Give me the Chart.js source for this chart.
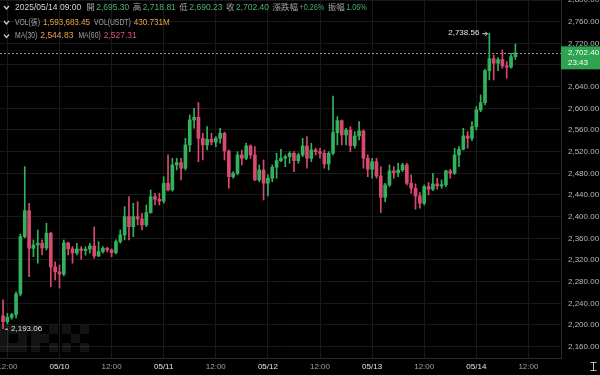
<!DOCTYPE html>
<html>
<head>
<meta charset="utf-8">
<script src="https://cdn.jsdelivr.net/npm/chart.js@4.4.1/dist/chart.umd.min.js"></script>
<style>
html, body { margin: 0; padding: 0; background: #000; }
#wrap { width: 600px; height: 375px; position: relative; }
</style>
</head>
<body>
<div id="wrap"><canvas id="chart" width="600" height="375"></canvas></div>
<script>
// Hourly candles, 05/09 11:00 -> 05/14 09:00 (x = hours from 05/10 00:00)
const firstHour = -13;

const opens = [
  2216.7, 2206.1, 2214.2, 2219.0, 2257.3, 2363.1, 2411.1, 2341.6, 2347.7, 2350.9,
  2342.2, 2369.4, 2307.1, 2298.0, 2294.0, 2351.5, 2340.4, 2333.0, 2340.4, 2337.5,
  2340.0, 2345.9, 2327.4, 2335.4, 2341.6, 2338.5, 2333.5, 2353.8, 2366.2, 2400.0,
  2381.5, 2400.0, 2395.8, 2384.7, 2407.4, 2437.0, 2432.1, 2428.6, 2461.7, 2449.3,
  2495.5, 2499.7, 2489.4, 2532.4, 2578.5, 2583.5, 2544.7, 2532.4, 2542.9, 2537.8,
  2544.7, 2554.0, 2521.3, 2473.8, 2480.1, 2513.9, 2507.8, 2530.5, 2513.9, 2467.8,
  2486.2, 2461.7, 2470.9, 2491.2, 2503.4, 2507.8, 2510.8, 2517.0, 2503.4, 2513.9,
  2530.5, 2507.8, 2523.1, 2520.0, 2517.0, 2497.3, 2517.0, 2555.1, 2577.2, 2550.8,
  2560.0, 2531.0, 2549.0, 2558.2, 2507.8, 2487.5, 2501.5, 2475.1, 2435.8, 2458.5,
  2484.4, 2481.2, 2486.2, 2495.5, 2461.7, 2452.4, 2438.2, 2424.7, 2455.4, 2450.6,
  2460.4, 2456.7, 2459.0, 2484.4, 2480.1, 2513.9, 2524.4, 2549.0, 2544.7, 2566.1,
  2597.0, 2610.5, 2669.5, 2691.7, 2683.2, 2690.0, 2678.2, 2676.0, 2695.3
];
const highs = [
  2246.2, 2221.6, 2221.6, 2261.0, 2368.0, 2492.3, 2424.7, 2357.0, 2375.4, 2357.0,
  2387.8, 2371.0, 2316.4, 2310.8, 2357.0, 2352.9, 2344.6, 2350.9, 2344.6, 2344.6,
  2350.9, 2381.0, 2353.8, 2344.6, 2343.5, 2340.6, 2357.0, 2375.4, 2418.5, 2437.0,
  2424.7, 2427.7, 2406.3, 2421.6, 2449.3, 2443.2, 2443.2, 2473.8, 2513.9, 2507.8,
  2507.8, 2507.8, 2544.7, 2587.8, 2600.1, 2610.5, 2554.0, 2566.1, 2554.0, 2547.7,
  2563.2, 2556.0, 2523.0, 2483.1, 2520.0, 2523.1, 2535.5, 2532.4, 2529.2, 2495.5,
  2504.7, 2477.0, 2495.5, 2517.0, 2524.4, 2513.9, 2520.0, 2520.0, 2517.0, 2544.7,
  2547.7, 2535.5, 2526.3, 2526.3, 2523.1, 2520.0, 2622.8, 2584.6, 2578.5, 2563.2,
  2566.1, 2557.0, 2575.4, 2560.0, 2513.9, 2507.8, 2507.8, 2492.3, 2461.7, 2495.5,
  2492.3, 2498.6, 2498.6, 2498.6, 2477.0, 2460.4, 2444.3, 2458.5, 2462.8, 2480.1,
  2470.9, 2467.8, 2486.2, 2487.5, 2526.3, 2529.2, 2563.2, 2557.0, 2575.4, 2603.1,
  2624.7, 2672.1, 2738.56, 2698.5, 2693.5, 2707.8, 2686.2, 2701.7, 2718.81
];
const lows = [
  2193.06, 2201.9, 2210.5, 2213.0, 2253.6, 2360.6, 2289.2, 2326.0, 2314.0, 2329.3,
  2338.5, 2270.8, 2283.0, 2268.0, 2290.5, 2329.3, 2314.0, 2329.3, 2321.4, 2329.0,
  2332.4, 2323.2, 2326.0, 2332.4, 2334.8, 2326.0, 2331.0, 2350.9, 2357.0, 2357.0,
  2363.0, 2384.7, 2375.4, 2381.5, 2406.3, 2421.6, 2421.6, 2425.0, 2447.4, 2447.0,
  2486.2, 2467.8, 2486.2, 2520.0, 2563.2, 2501.5, 2504.7, 2523.0, 2532.4, 2529.0,
  2535.5, 2504.7, 2452.4, 2470.9, 2477.0, 2495.5, 2505.0, 2507.8, 2466.4, 2464.6,
  2430.8, 2438.2, 2464.6, 2470.9, 2501.5, 2492.3, 2498.6, 2483.1, 2498.6, 2510.8,
  2489.4, 2501.5, 2513.9, 2507.8, 2489.4, 2486.2, 2514.0, 2532.4, 2532.4, 2532.4,
  2520.0, 2526.3, 2541.6, 2489.4, 2473.8, 2470.9, 2470.9, 2407.4, 2427.7, 2455.4,
  2470.9, 2473.8, 2483.1, 2458.5, 2443.2, 2413.7, 2415.5, 2421.6, 2440.0, 2448.0,
  2450.6, 2452.4, 2455.4, 2470.9, 2478.0, 2492.3, 2523.0, 2526.3, 2540.3, 2560.0,
  2593.9, 2606.2, 2652.4, 2652.4, 2669.5, 2674.0, 2655.5, 2674.0, 2690.23
];
const closes = [
  2206.1, 2214.2, 2219.0, 2257.3, 2363.1, 2411.1, 2341.6, 2347.7, 2350.9, 2342.2,
  2369.4, 2307.1, 2298.0, 2294.0, 2351.5, 2340.4, 2333.0, 2340.4, 2337.5, 2340.0,
  2345.9, 2327.4, 2335.4, 2341.6, 2338.5, 2333.5, 2353.8, 2366.2, 2400.0, 2381.5,
  2400.0, 2395.8, 2384.7, 2407.4, 2437.0, 2432.1, 2428.6, 2461.7, 2449.3, 2495.5,
  2499.7, 2489.4, 2532.4, 2578.5, 2583.5, 2544.7, 2532.4, 2542.9, 2537.8, 2544.7,
  2554.0, 2521.3, 2473.8, 2480.1, 2513.9, 2507.8, 2530.5, 2513.9, 2467.8, 2486.2,
  2461.7, 2470.9, 2491.2, 2503.4, 2507.8, 2510.8, 2517.0, 2503.4, 2513.9, 2530.5,
  2507.8, 2523.1, 2520.0, 2517.0, 2497.3, 2517.0, 2555.1, 2577.2, 2550.8, 2560.0,
  2531.0, 2549.0, 2558.2, 2507.8, 2487.5, 2501.5, 2475.1, 2435.8, 2458.5, 2484.4,
  2481.2, 2486.2, 2495.5, 2461.7, 2452.4, 2438.2, 2424.7, 2455.4, 2450.6, 2460.4,
  2456.7, 2459.0, 2484.4, 2480.1, 2513.9, 2524.4, 2549.0, 2544.7, 2566.1, 2597.0,
  2610.5, 2669.5, 2691.7, 2683.2, 2690.0, 2678.2, 2676.0, 2695.3, 2702.4
];

const xTickHours = [-12, 0, 12, 24, 36, 48, 60, 72, 84, 96, 108];
const xTickLabels = ['12:00', '05/10', '12:00', '05/11', '12:00', '05/12', '12:00', '05/13', '12:00', '05/14', '12:00'];
const yTickValues = [2160, 2200, 2240, 2280, 2320, 2360, 2400, 2440, 2480, 2520, 2560, 2600, 2640, 2680, 2720, 2760, 2800];

const lastPrice = 2702.40;
const countdown = '23:43';
const highMark = 2738.56;
const lowMark = 2193.06;

const headerTime = '2025/05/14 09:00';
const headerOHLC = [['開', '2,695.30'], ['高', '2,718.81'], ['低', '2,690.23'], ['收', '2,702.40']];
const headerChange = [['漲跌幅', '+0.26%'], ['振幅', '1.06%']];
const headerVol = [['VOL(張)', '1,593,683.45'], ['VOL(USDT)', '430.731M']];
const headerMA = [['MA(30)', '2,544.83', '#e9a04c'], ['MA(60)', '2,527.31', '#dc5379']];

const GREEN = '#33b25e';
const RED = '#da4870';
const GRID = '#191919';
const FONT = "'Liberation Sans', Arial, 'Noto Sans CJK TC', sans-serif";

const hours = opens.map((o, i) => firstHour + i);
const candleColors = opens.map((o, i) => closes[i] >= o ? GREEN : RED);
const fmt2 = v => v.toLocaleString('en-US', { minimumFractionDigits: 2, maximumFractionDigits: 2 });

function chevron(ctx, x, y) {
  ctx.save();
  ctx.strokeStyle = '#cfcfcf';
  ctx.lineWidth = 1.2;
  ctx.beginPath();
  ctx.moveTo(x, y - 1.5);
  ctx.lineTo(x + 2.5, y + 1.5);
  ctx.lineTo(x + 5, y - 1.5);
  ctx.stroke();
  ctx.restore();
}

// parts: [text, color, gapAfter, squeeze]
function drawRow(ctx, x, y, parts) {
  parts.forEach(([text, color, gap, squeeze]) => {
    const w = ctx.measureText(text).width * (squeeze || 1);
    ctx.fillStyle = color;
    ctx.fillText(text, x, y, w);
    x += w + gap;
  });
}

const overlay = {
  id: 'overlay',
  beforeDatasetsDraw(chart) {
    const { ctx, chartArea, scales } = chart;
    ctx.save();
    // faint OKX watermark blocks
    ctx.fillStyle = 'rgba(255,255,255,0.075)';
    const cell = 9, top = 325;
    const letters = [
      [[0,0],[1,0],[2,0],[0,1],[2,1],[0,2],[1,2],[2,2]],
      [[0,0],[2,0],[0,1],[1,1],[0,2],[2,2]],
      [[0,0],[2,0],[1,1],[0,2],[2,2]]
    ];
    letters.forEach((cells, li) => {
      cells.forEach(([cx, cy]) => ctx.fillRect(li * 31 + cx * cell, top + cy * cell, cell, cell));
    });
    // last price dotted line
    const py = Math.round(scales.y.getPixelForValue(lastPrice)) + 0.5;
    ctx.strokeStyle = '#9a9a9a';
    ctx.lineWidth = 1;
    ctx.setLineDash([2, 2]);
    ctx.beginPath();
    ctx.moveTo(chartArea.left, py);
    ctx.lineTo(chartArea.right, py);
    ctx.stroke();
    ctx.restore();
  },
  afterDraw(chart) {
    const { ctx, chartArea, scales } = chart;
    ctx.save();
    ctx.textBaseline = 'middle';
    ctx.font = '8.5px ' + FONT;

    // header rows
    const gray = '#a3a3a3', green = '#4fb068', orange = '#e9a04c';
    chevron(ctx, 4, 7.5);
    chevron(ctx, 4, 22.5);
    chevron(ctx, 4, 36);
    const row1 = [[headerTime, '#d4d4d4', 5]];
    headerOHLC.forEach(([k, v]) => { row1.push([k, gray, 1.5]); row1.push([v, green, 3.5]); });
    headerChange.forEach(([k, v]) => { row1.push([k, gray, 1.5]); row1.push([v, green, 3.5, 0.85]); });
    drawRow(ctx, 15, 7.5, row1);
    const row2 = [];
    headerVol.forEach(([k, v]) => { row2.push([k, gray, 3, 0.8]); row2.push([v, orange, 4, 0.95]); });
    drawRow(ctx, 15, 22.5, row2);
    const row3 = [];
    headerMA.forEach(([k, v, c]) => { row3.push([k, gray, 3, 0.8]); row3.push([v, c, 5]); });
    drawRow(ctx, 15, 36, row3);

    // last price tag on the axis
    const py = scales.y.getPixelForValue(lastPrice);
    ctx.fillStyle = '#2ea451';
    ctx.fillRect(chartArea.right, py - 6.5, 600 - chartArea.right, 23);
    ctx.fillStyle = '#ffffff';
    ctx.font = '8px ' + FONT;
    ctx.fillText(fmt2(lastPrice), chartArea.right + 7, py - 0.5);
    ctx.fillText(countdown, chartArea.right + 7, py + 9.5);

    // high / low markers
    const iHigh = highs.indexOf(highMark), iLow = lows.indexOf(lowMark);
    ctx.fillStyle = '#e4e4e4';
    ctx.strokeStyle = '#e4e4e4';
    ctx.lineWidth = 1;
    const hx = scales.x.getPixelForValue(hours[iHigh]);
    const hy = scales.y.getPixelForValue(highMark);
    ctx.textAlign = 'right';
    ctx.fillText(fmt2(highMark), hx - 10, hy);
    ctx.beginPath();
    ctx.moveTo(hx - 7, hy + 0.5); ctx.lineTo(hx - 2, hy + 0.5);
    ctx.moveTo(hx - 4, hy - 1.5); ctx.lineTo(hx - 2, hy + 0.5); ctx.lineTo(hx - 4, hy + 2.5);
    ctx.stroke();
    const lx = scales.x.getPixelForValue(hours[iLow]);
    const ly = scales.y.getPixelForValue(lowMark);
    ctx.textAlign = 'left';
    ctx.beginPath();
    ctx.moveTo(lx + 2, ly + 0.5); ctx.lineTo(lx + 5, ly + 0.5);
    ctx.stroke();
    ctx.fillText(fmt2(lowMark), lx + 8, ly);

    // cursor glyph in the corner
    ctx.strokeStyle = '#bdbdbd';
    ctx.beginPath();
    ctx.moveTo(590.5, 362.5); ctx.lineTo(596.5, 362.5);
    ctx.moveTo(593.5, 362.5); ctx.lineTo(593.5, 370.5);
    ctx.moveTo(590.5, 370.5); ctx.lineTo(596.5, 370.5);
    ctx.stroke();
    ctx.restore();
  }
};

new Chart(document.getElementById('chart'), {
  type: 'bar',
  data: {
    datasets: [
      {
        label: 'wick',
        data: hours.map((h, i) => ({ x: h, y: [lows[i], highs[i]] })),
        backgroundColor: candleColors,
        barThickness: 1,
        grouped: false,
        order: 2
      },
      {
        label: 'body',
        data: hours.map((h, i) => ({ x: h, y: [opens[i], closes[i]] })),
        backgroundColor: candleColors,
        barThickness: 3,
        minBarLength: 1,
        grouped: false,
        order: 1
      }
    ]
  },
  options: {
    responsive: false,
    animation: false,
    layout: { padding: 0 },
    plugins: { legend: { display: false }, tooltip: { enabled: false } },
    scales: {
      x: {
        type: 'linear',
        min: -13.7,
        max: 115.5,
        offset: false,
        afterBuildTicks: a => { a.ticks = xTickHours.map(v => ({ value: v })); },
        afterFit: a => { a.height = 17; a.paddingLeft = 0; a.paddingRight = 0; },
        grid: { color: GRID, drawTicks: false, offset: false },
        border: { color: '#2a2a2a' },
        ticks: {
          autoSkip: false,
          maxRotation: 0,
          padding: 4,
          font: { family: FONT, size: 8 },
          color: c => xTickLabels[c.index] && xTickLabels[c.index].includes('/') ? '#e6e6e6' : '#a0a0a0',
          callback: (v, i) => xTickLabels[i]
        }
      },
      y: {
        position: 'right',
        min: 2139,
        max: 2800,
        afterBuildTicks: a => { a.ticks = yTickValues.map(v => ({ value: v })); },
        afterFit: a => { a.width = 39; a.paddingTop = 0; a.paddingBottom = 0; },
        grid: { color: GRID, drawTicks: false },
        border: { color: '#2a2a2a' },
        ticks: {
          padding: 7,
          font: { family: FONT, size: 8 },
          color: '#b8b8b8',
          callback: v => fmt2(v)
        }
      }
    }
  },
  plugins: [overlay]
});
</script>
</body>
</html>
